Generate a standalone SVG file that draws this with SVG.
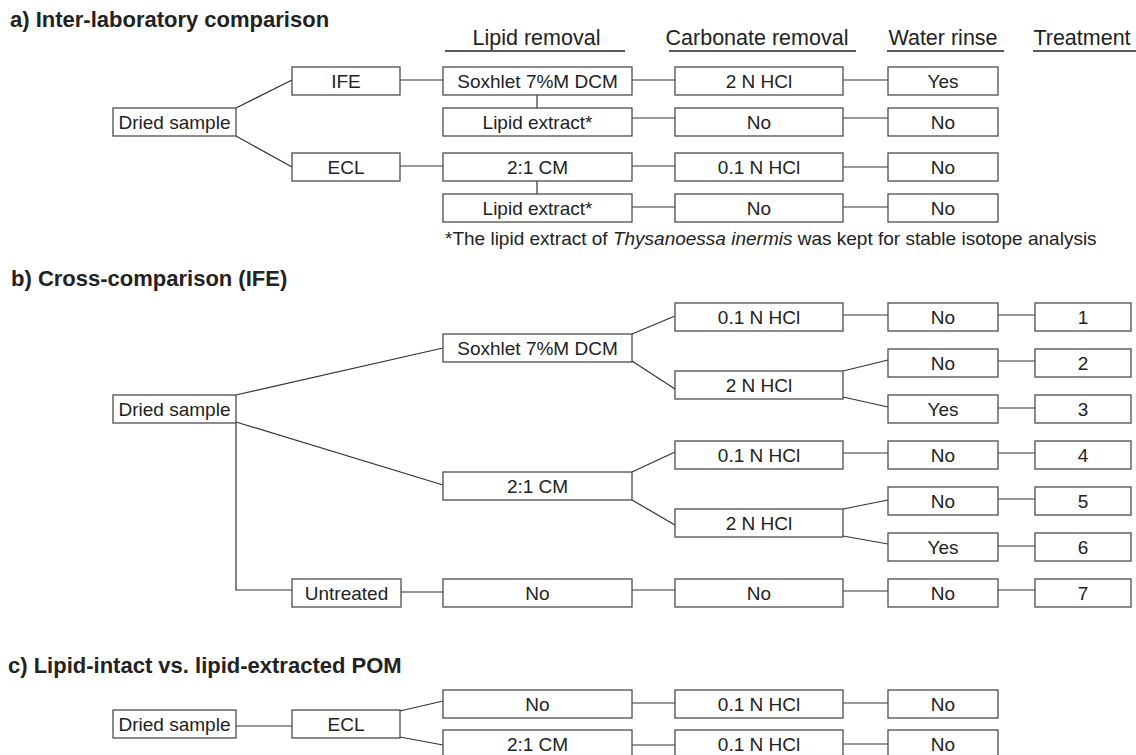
<svg xmlns="http://www.w3.org/2000/svg" width="1136" height="755" viewBox="0 0 1136 755">
<style>
.bx{fill:#fff;stroke:#4d4d4d;stroke-width:1.3}
.t{font-family:"Liberation Sans",Arial,sans-serif;font-size:19px;fill:#222;text-anchor:middle}
.h{font-family:"Liberation Sans",Arial,sans-serif;font-size:21.5px;fill:#222;text-anchor:middle}
.ti{font-family:"Liberation Sans",Arial,sans-serif;font-size:22px;font-weight:bold;fill:#222}
.fn{font-family:"Liberation Sans",Arial,sans-serif;font-size:19px;fill:#222}
.ln{stroke:#333;stroke-width:1.2;fill:none}
.ul{stroke:#222;stroke-width:1.6}
</style>
<rect width="1136" height="755" fill="#fff"/>

<!-- Titles and headers -->
<text class="ti" x="10" y="27">a) Inter-laboratory comparison</text>
<text class="ti" x="11" y="286">b) Cross-comparison (IFE)</text>
<text class="ti" x="8" y="673">c) Lipid-intact vs. lipid-extracted POM</text>
<g id="headers">
<text class="h" x="536.5" y="45">Lipid removal</text>
<line class="ul" x1="445" y1="51" x2="625" y2="51"/>
<text class="h" x="757" y="45">Carbonate removal</text>
<line class="ul" x1="669" y1="51" x2="856" y2="51"/>
<text class="h" x="943" y="45">Water rinse</text>
<line class="ul" x1="887" y1="51" x2="1004" y2="51"/>
<text class="h" x="1082" y="45">Treatment</text>
<line class="ul" x1="1033" y1="51" x2="1136" y2="51"/>
</g>
<text class="fn" x="445" y="245">*The lipid extract of <tspan font-style="italic">Thysanoessa inermis</tspan> was kept for stable isotope analysis</text>

<!-- Connectors -->
<g id="connectors" class="ln">
<!-- a -->
<line x1="236" y1="108" x2="292" y2="80"/>
<line x1="236" y1="136" x2="292" y2="167"/>
<line x1="400" y1="80" x2="443" y2="80"/>
<line x1="400" y1="166" x2="443" y2="166"/>
<line x1="537" y1="95" x2="537" y2="108"/>
<line x1="537" y1="181" x2="537" y2="194"/>
<line x1="632" y1="80" x2="675" y2="80"/>
<line x1="632" y1="118" x2="675" y2="118"/>
<line x1="632" y1="166" x2="675" y2="166"/>
<line x1="632" y1="207" x2="675" y2="207"/>
<line x1="843" y1="80" x2="888" y2="80"/>
<line x1="843" y1="118" x2="888" y2="118"/>
<line x1="843" y1="167" x2="888" y2="167"/>
<line x1="843" y1="207" x2="888" y2="207"/>
<!-- b -->
<line x1="236" y1="395" x2="443" y2="348"/>
<line x1="236" y1="422" x2="443" y2="485"/>
<polyline points="236,423 236,590 292,590"/>
<line x1="401" y1="592" x2="443" y2="592"/>
<line x1="632" y1="334" x2="675" y2="316"/>
<line x1="632" y1="361" x2="675" y2="389"/>
<line x1="632" y1="472" x2="675" y2="452"/>
<line x1="632" y1="500" x2="675" y2="525"/>
<line x1="632" y1="590" x2="675" y2="590"/>
<line x1="843" y1="315" x2="888" y2="315"/>
<line x1="843" y1="371" x2="888" y2="360"/>
<line x1="843" y1="397" x2="888" y2="407"/>
<line x1="843" y1="453" x2="888" y2="453"/>
<line x1="843" y1="509" x2="888" y2="500"/>
<line x1="843" y1="536" x2="888" y2="544"/>
<line x1="843" y1="591" x2="888" y2="591"/>
<line x1="998" y1="315" x2="1035" y2="315"/>
<line x1="998" y1="361" x2="1035" y2="361"/>
<line x1="998" y1="408" x2="1035" y2="408"/>
<line x1="998" y1="453" x2="1035" y2="453"/>
<line x1="998" y1="499" x2="1035" y2="499"/>
<line x1="998" y1="546" x2="1035" y2="546"/>
<line x1="998" y1="590" x2="1035" y2="590"/>
<!-- c -->
<line x1="236" y1="726" x2="292" y2="726"/>
<line x1="400" y1="711" x2="443" y2="701"/>
<line x1="400" y1="737" x2="443" y2="745"/>
<line x1="632" y1="703" x2="675" y2="703"/>
<line x1="843" y1="703" x2="888" y2="703"/>
<line x1="632" y1="745" x2="675" y2="745"/>
<line x1="843" y1="744" x2="888" y2="744"/>
</g>

<!-- Section a nodes -->
<g id="a-dried"><rect class="bx" x="113" y="108" width="123" height="28"/><text class="t" x="174.5" y="129">Dried sample</text></g>
<g id="a-ife"><rect class="bx" x="292" y="67" width="108" height="28"/><text class="t" x="346" y="88">IFE</text></g>
<g id="a-ecl"><rect class="bx" x="292" y="153" width="108" height="28"/><text class="t" x="346" y="174">ECL</text></g>
<g id="a-sox"><rect class="bx" x="443" y="67" width="189" height="28"/><text class="t" x="537.5" y="88">Soxhlet 7%M DCM</text></g>
<g id="a-lipext1"><rect class="bx" x="443" y="108" width="189" height="28"/><text class="t" x="537.5" y="129">Lipid extract*</text></g>
<g id="a-cm"><rect class="bx" x="443" y="153" width="189" height="28"/><text class="t" x="537.5" y="174">2:1 CM</text></g>
<g id="a-lipext2"><rect class="bx" x="443" y="194" width="189" height="28"/><text class="t" x="537.5" y="215">Lipid extract*</text></g>
<g id="a-carb1"><rect class="bx" x="675" y="67" width="168" height="28"/><text class="t" x="759" y="88">2 N HCl</text></g>
<g id="a-carb2"><rect class="bx" x="675" y="108" width="168" height="28"/><text class="t" x="759" y="129">No</text></g>
<g id="a-carb3"><rect class="bx" x="675" y="153" width="168" height="28"/><text class="t" x="759" y="174">0.1 N HCl</text></g>
<g id="a-carb4"><rect class="bx" x="675" y="194" width="168" height="28"/><text class="t" x="759" y="215">No</text></g>
<g id="a-water1"><rect class="bx" x="888" y="67" width="110" height="28"/><text class="t" x="943" y="88">Yes</text></g>
<g id="a-water2"><rect class="bx" x="888" y="108" width="110" height="28"/><text class="t" x="943" y="129">No</text></g>
<g id="a-water3"><rect class="bx" x="888" y="153" width="110" height="28"/><text class="t" x="943" y="174">No</text></g>
<g id="a-water4"><rect class="bx" x="888" y="194" width="110" height="28"/><text class="t" x="943" y="215">No</text></g>

<!-- Section b nodes -->
<g id="b-dried"><rect class="bx" x="113" y="395" width="123" height="28"/><text class="t" x="174.5" y="416">Dried sample</text></g>
<g id="b-untreated"><rect class="bx" x="292" y="579" width="109" height="28"/><text class="t" x="346.5" y="600">Untreated</text></g>
<g id="b-sox"><rect class="bx" x="443" y="334" width="189" height="28"/><text class="t" x="537.5" y="355">Soxhlet 7%M DCM</text></g>
<g id="b-cm"><rect class="bx" x="443" y="472" width="189" height="28"/><text class="t" x="537.5" y="493">2:1 CM</text></g>
<g id="b-lipno"><rect class="bx" x="443" y="579" width="189" height="28"/><text class="t" x="537.5" y="600">No</text></g>
<g id="b-carb1"><rect class="bx" x="675" y="303" width="168" height="28"/><text class="t" x="759" y="324">0.1 N HCl</text></g>
<g id="b-carb2"><rect class="bx" x="675" y="371" width="168" height="28"/><text class="t" x="759" y="392">2 N HCl</text></g>
<g id="b-carb3"><rect class="bx" x="675" y="441" width="168" height="28"/><text class="t" x="759" y="462">0.1 N HCl</text></g>
<g id="b-carb4"><rect class="bx" x="675" y="509" width="168" height="28"/><text class="t" x="759" y="530">2 N HCl</text></g>
<g id="b-carb5"><rect class="bx" x="675" y="579" width="168" height="28"/><text class="t" x="759" y="600">No</text></g>
<g id="b-water1"><rect class="bx" x="888" y="303" width="110" height="28"/><text class="t" x="943" y="324">No</text></g>
<g id="b-water2"><rect class="bx" x="888" y="349" width="110" height="28"/><text class="t" x="943" y="370">No</text></g>
<g id="b-water3"><rect class="bx" x="888" y="395" width="110" height="28"/><text class="t" x="943" y="416">Yes</text></g>
<g id="b-water4"><rect class="bx" x="888" y="441" width="110" height="28"/><text class="t" x="943" y="462">No</text></g>
<g id="b-water5"><rect class="bx" x="888" y="487" width="110" height="28"/><text class="t" x="943" y="508">No</text></g>
<g id="b-water6"><rect class="bx" x="888" y="533" width="110" height="28"/><text class="t" x="943" y="554">Yes</text></g>
<g id="b-water7"><rect class="bx" x="888" y="579" width="110" height="28"/><text class="t" x="943" y="600">No</text></g>
<g id="b-t1"><rect class="bx" x="1035" y="303" width="96" height="28"/><text class="t" x="1083" y="324">1</text></g>
<g id="b-t2"><rect class="bx" x="1035" y="349" width="96" height="28"/><text class="t" x="1083" y="370">2</text></g>
<g id="b-t3"><rect class="bx" x="1035" y="395" width="96" height="28"/><text class="t" x="1083" y="416">3</text></g>
<g id="b-t4"><rect class="bx" x="1035" y="441" width="96" height="28"/><text class="t" x="1083" y="462">4</text></g>
<g id="b-t5"><rect class="bx" x="1035" y="487" width="96" height="28"/><text class="t" x="1083" y="508">5</text></g>
<g id="b-t6"><rect class="bx" x="1035" y="533" width="96" height="28"/><text class="t" x="1083" y="554">6</text></g>
<g id="b-t7"><rect class="bx" x="1035" y="579" width="96" height="28"/><text class="t" x="1083" y="600">7</text></g>

<!-- Section c nodes -->
<g id="c-dried"><rect class="bx" x="113" y="710" width="123" height="28"/><text class="t" x="174.5" y="731">Dried sample</text></g>
<g id="c-ecl"><rect class="bx" x="292" y="710" width="108" height="28"/><text class="t" x="346" y="731">ECL</text></g>
<g id="c-lip1"><rect class="bx" x="443" y="690" width="189" height="28"/><text class="t" x="537.5" y="711">No</text></g>
<g id="c-lip2"><rect class="bx" x="443" y="730" width="189" height="28"/><text class="t" x="537.5" y="751">2:1 CM</text></g>
<g id="c-carb1"><rect class="bx" x="675" y="690" width="168" height="28"/><text class="t" x="759" y="711">0.1 N HCl</text></g>
<g id="c-carb2"><rect class="bx" x="675" y="730" width="168" height="28"/><text class="t" x="759" y="751">0.1 N HCl</text></g>
<g id="c-water1"><rect class="bx" x="888" y="690" width="110" height="28"/><text class="t" x="943" y="711">No</text></g>
<g id="c-water2"><rect class="bx" x="888" y="730" width="110" height="28"/><text class="t" x="943" y="751">No</text></g>
</svg>
